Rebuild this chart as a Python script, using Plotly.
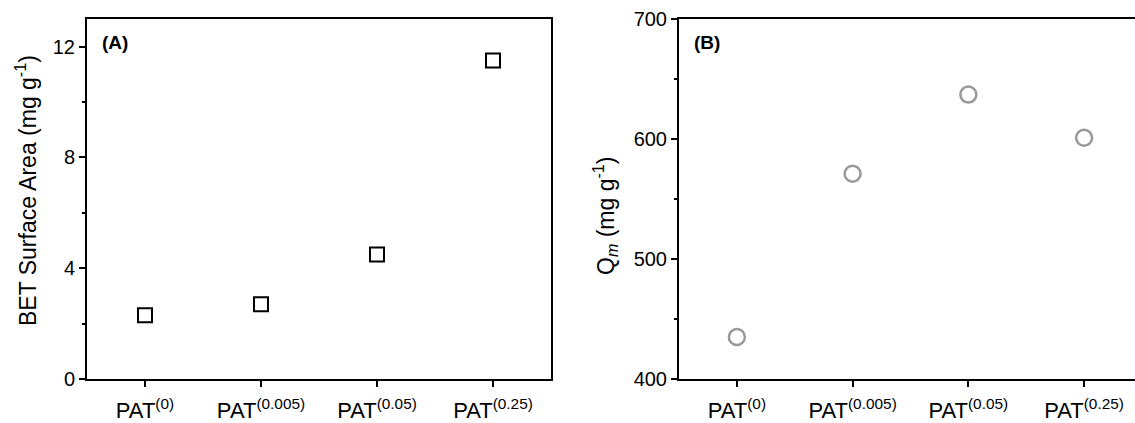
import plotly.graph_objects as go

# Samples and measured values
samples = ["PAT<sup>(0)</sup>", "PAT<sup>(0.005)</sup>", "PAT<sup>(0.05)</sup>", "PAT<sup>(0.25)</sup>"]
bet_area = [2.3, 2.7, 4.5, 11.5]
qm_values = [435, 571, 637, 601]

W, H = 1135, 423
FONT = "Liberation Sans, Arial, sans-serif"

fig = go.Figure()

fig.add_trace(go.Scatter(
    x=samples, y=bet_area, mode="markers", xaxis="x", yaxis="y",
    marker=dict(symbol="square-open", size=14, color="black", line=dict(width=2, color="black")),
    showlegend=False,
))
fig.add_trace(go.Scatter(
    x=samples, y=qm_values, mode="markers", xaxis="x2", yaxis="y2",
    marker=dict(symbol="circle-open", size=16, color="#999999", line=dict(width=2.5, color="#999999")),
    showlegend=False,
))

ydom = [1 - 379 / H, 1 - 19 / H]

common_x = dict(
    type="category", showline=True, linewidth=2, linecolor="black", mirror=True,
    ticks="outside", ticklen=6, tickwidth=2, tickcolor="black", showgrid=False, zeroline=False,
    tickfont=dict(family=FONT, size=22, color="black"), ticklabelstandoff=5, automargin=False,
)
common_y = dict(
    showline=True, linewidth=2, linecolor="black",
    ticks="outside", ticklen=6, tickwidth=2, tickcolor="black", showgrid=False, zeroline=False,
    tickfont=dict(family=FONT, size=20, color="black"), automargin=False,
)

title_font = dict(family=FONT, size=23, color="black")
label_font = dict(family=FONT, size=19, color="black")

fig.update_layout(
    template="none",
    width=W, height=H,
    margin=dict(l=0, r=0, t=0, b=0, pad=0),
    paper_bgcolor="white", plot_bgcolor="white",
    font=dict(family=FONT, color="black"),
    xaxis=dict(common_x, domain=[87 / W, 551 / W], range=[-0.5, 3.5], anchor="y"),
    yaxis=dict(common_y, domain=ydom, range=[0, 13], dtick=4, tick0=0, mirror=True, anchor="x",
               minor=dict(dtick=2, ticklen=3, tickwidth=2, tickcolor="black", ticks="outside")),
    xaxis2=dict(common_x, domain=[679 / W, 1.0], range=[-0.5, 3.44], anchor="y2"),
    yaxis2=dict(common_y, domain=ydom, range=[400, 700], dtick=100, tick0=400, mirror=False, anchor="x2",
                minor=dict(dtick=50, ticklen=3, tickwidth=2, tickcolor="black", ticks="outside")),
    annotations=[
        # y-axis titles
        dict(text="BET Surface Area (mg g<sup>-1</sup>)", xref="paper", yref="paper",
             x=26 / W, y=1 - 191 / H, xanchor="center", yanchor="middle", textangle=-90,
             showarrow=False, font=title_font),
        dict(text="Q<sub><i>m</i></sub> (mg g<sup>-1</sup>)", xref="paper", yref="paper",
             x=605 / W, y=1 - 216 / H, xanchor="center", yanchor="middle", textangle=-90,
             showarrow=False, font=title_font),
        # panel labels
        dict(text="<b>(A)</b>", xref="paper", yref="paper", x=100 / W, y=1 - 42 / H,
             xanchor="left", yanchor="middle", showarrow=False, font=label_font),
        dict(text="<b>(B)</b>", xref="paper", yref="paper", x=692 / W, y=1 - 42 / H,
             xanchor="left", yanchor="middle", showarrow=False, font=label_font),
    ],
)

fig.write_html("out.html")
